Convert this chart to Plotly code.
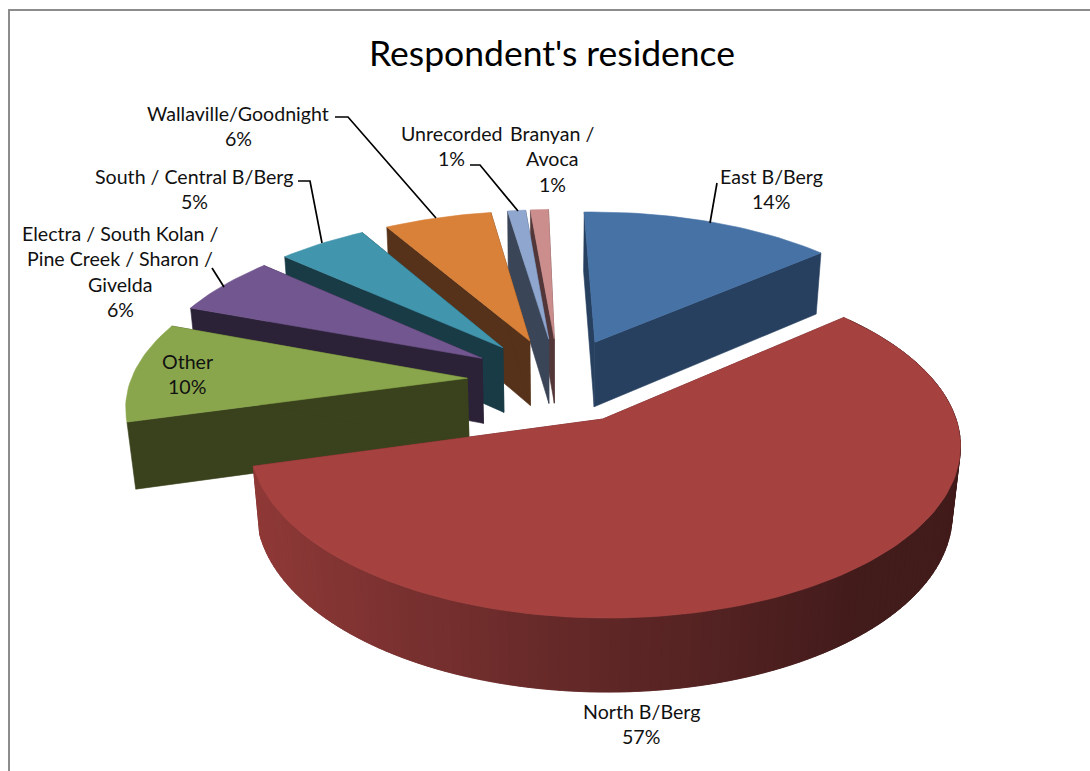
import numpy as np
import plotly.graph_objects as go

# ---- data ----
categories = ["East B/Berg", "North B/Berg", "Other",
              "Electra / South Kolan /<br>Pine Creek / Sharon /<br>Givelda",
              "South / Central B/Berg", "Wallaville/Goodnight",
              "Unrecorded", "Branyan /<br>Avoca"]
values = [14, 57, 10, 6, 5, 6, 1, 1]
top_colors = ["#4672A6", "#A5423F", "#8AA64C", "#72568F", "#4195AD", "#D98139", "#8FA6CF", "#CB8E8D"]
wall_colors = ["#274060", "#5E2626", "#39421C", "#2B2238", "#193B46", "#56321A", "#3A4557", "#533638"]
title_text = "Respondent's residence"

# ---- label placement (pixels of the page) ----
label_centres = [(771, 176), (641, 711), (187, 361), (120, 233), (194, 176), (238, 113), (451, 133), (552, 133)]
leaders = [[(717, 183), (710, 223)],
           [(335, 117), (348, 117), (436, 218)],
           [(298, 181), (310, 181), (322, 243)],
           [(212, 268), (224, 287)],
           [(470, 165), (480, 165), (518, 211)]]

# ---- 3D view of the pie ----
CX, CY = 558.5, 380.0
FX, FY = 1912.0 * 1.085, 1912.0 * 1.015
D = 6.12
SHEAR, ROLL = -11.0, -0.018
START = np.radians(1.0)
ELEV = np.radians(30)
PULL, HEIGHT = 0.27, 0.245
FONT = "Lato"
FONT_SIZE = 19.6
LINE_STEP = 25.6


def project(X, Y, Z):
    depth = D + Y * np.cos(ELEV) - Z * np.sin(ELEV)
    sx = FX * X / depth + SHEAR * Y
    sy = -FY * (Y * np.sin(ELEV) + Z * np.cos(ELEV)) / depth
    return CX + sx, CY + sy + ROLL * sx


def mix(c1, c2, t):
    a = [int(c1[i:i + 2], 16) for i in (1, 3, 5)]
    b = [int(c2[i:i + 2], 16) for i in (1, 3, 5)]
    return "rgb(%d,%d,%d)" % tuple(round(p + (q - p) * t) for p, q in zip(a, b))


def poly(fig, xs, ys, color):
    fig.add_trace(go.Scatter(x=np.r_[xs, xs[0]], y=np.r_[ys, ys[0]], mode="lines", fill="toself",
                             fillcolor=color, line=dict(color=color, width=0.6),
                             hoverinfo="skip", showlegend=False))


fig = go.Figure()
fractions = np.array(values, dtype=float) / sum(values)
edges = START + np.r_[0, np.cumsum(fractions)] * 2 * np.pi

# painter's order: back slices first, the big front slice last
order = [0, 7, 6, 5, 4, 3, 2, 1]
for i in order:
    a0, a1 = edges[i], edges[i + 1]
    mid = (a0 + a1) / 2
    ox, oy = PULL * np.sin(mid), PULL * np.cos(mid)
    th = np.linspace(a0, a1, max(8, int((a1 - a0) * 40)))
    rx, ry = ox + np.sin(th), oy + np.cos(th)

    # radial walls
    for a in (a0, a1):
        ex, ey = ox + np.sin(a), oy + np.cos(a)
        X = np.array([ox, ex, ex, ox])
        Y = np.array([oy, ey, ey, oy])
        Z = np.array([0, 0, -HEIGHT, -HEIGHT])
        px, py = project(X, Y, Z)
        poly(fig, px, py, wall_colors[i])

    # rim, shaded segment by segment (only slices that face the viewer)
    if np.cos(mid) < 0:
        for k in range(len(th) - 1):
            s = np.sin((th[k] + th[k + 1]) / 2)
            if s < 0:
                col = mix(wall_colors[i], top_colors[i], min(1, -s) * 0.72)
            else:
                col = mix(wall_colors[i], "#000000", min(1, s * 1.6) * 0.3)
            j = min(k + 2, len(th) - 1)
            X = np.array([rx[k], rx[j], rx[j], rx[k]])
            Y = np.array([ry[k], ry[j], ry[j], ry[k]])
            Z = np.array([0, 0, -HEIGHT, -HEIGHT])
            px, py = project(X, Y, Z)
            poly(fig, px, py, col)

    # top face
    tx, ty = project(np.r_[ox, rx], np.r_[oy, ry], np.zeros(len(rx) + 1))
    poly(fig, tx, ty, top_colors[i])

# labels: one annotation per text line so the line pitch matches
annotations = []
for name, val, (x, y) in zip(categories, values, label_centres):
    for n, line in enumerate(name.split("<br>") + [f"{val}%"]):
        annotations.append(dict(x=x, y=y + n * LINE_STEP, text=line, showarrow=False, xref="x", yref="y",
                                xanchor="center", yanchor="middle", font=dict(family=FONT, size=FONT_SIZE, color="#111111")))
annotations.append(dict(x=552, y=52, text=title_text, showarrow=False, xref="x", yref="y",
                        xanchor="center", yanchor="middle", font=dict(family=FONT, size=35.5, color="#000000")))

shapes = [dict(type="path", xref="x", yref="y", line=dict(color="#000000", width=1.7),
               path="M" + " L".join(f"{x},{y}" for x, y in pts)) for pts in leaders]
shapes.append(dict(type="path", xref="x", yref="y", line=dict(color="#8C8C8C", width=2),
                   path="M9,771 L9,10 L1090,10"))

fig.update_layout(width=1090, height=771, margin=dict(l=0, r=0, t=0, b=0),
                  paper_bgcolor="white", plot_bgcolor="white", showlegend=False,
                  annotations=annotations, shapes=shapes,
                  xaxis=dict(range=[0, 1090], visible=False, fixedrange=True),
                  yaxis=dict(range=[771, 0], visible=False, fixedrange=True))
fig.write_html("out.html", config=dict(displayModeBar=False),
               post_script="document.body.style.margin='0';")
